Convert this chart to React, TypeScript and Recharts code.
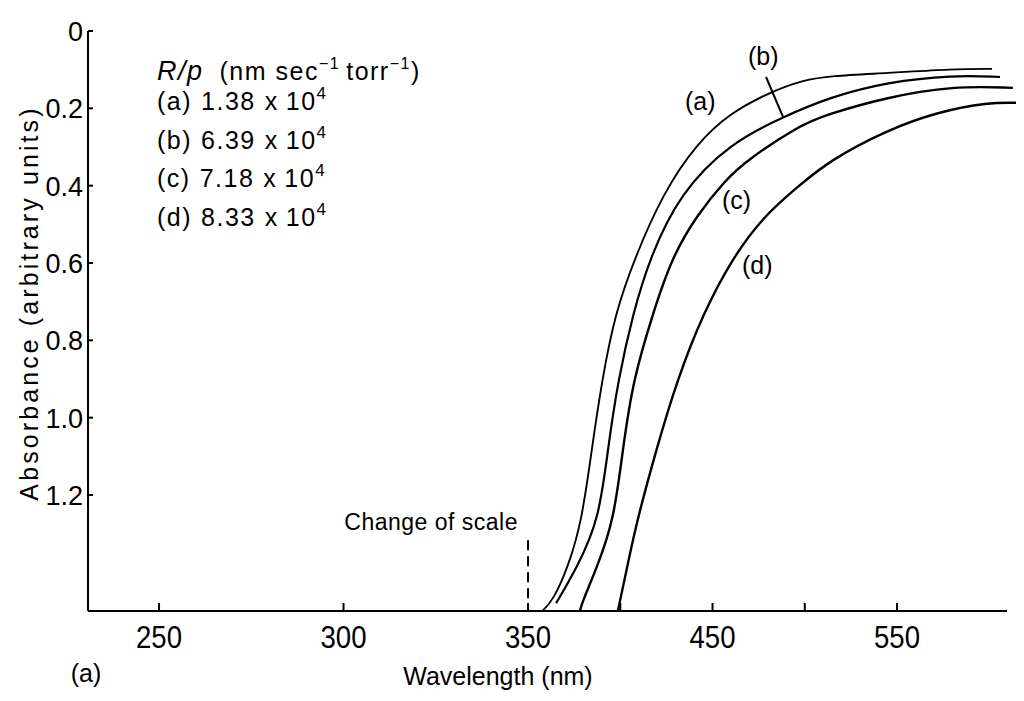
import { LineChart, Line, XAxis, YAxis, ReferenceLine } from 'recharts'

// wavelength (nm) / absorbance readings for each curve
const WL_A = [358.1, 363.6, 371.7, 379.3, 384.7, 390.1, 397.2, 408.0, 423.2, 441.6, 459.5, 481.2, 499.1, 513.7, 544.6, 580.3, 601.5]
const ABS_A = [1.498, 1.472, 1.387, 1.265, 1.076, 0.903, 0.73, 0.585, 0.419, 0.29, 0.212, 0.158, 0.127, 0.116, 0.109, 0.098, 0.098]

const WL_B = [365.2, 376.6, 388.5, 393.4, 398.8, 406.9, 416.1, 432.4, 459.5, 488.2, 513.7, 544.6, 580.3, 605.8]
const ABS_B = [1.48, 1.387, 1.265, 1.076, 0.903, 0.73, 0.585, 0.419, 0.29, 0.222, 0.171, 0.132, 0.114, 0.119]

const WL_C = [378.2, 379.8, 387.4, 396.6, 401.5, 406.9, 417.7, 428.0, 441.6, 456.8, 468.7, 495.8, 511.0, 544.6, 580.3, 612.8]
const ABS_C = [1.498, 1.472, 1.387, 1.265, 1.076, 0.903, 0.73, 0.585, 0.476, 0.386, 0.334, 0.248, 0.217, 0.171, 0.142, 0.147]

const WL_D = [398.8, 399.9, 403.7, 409.1, 419.9, 430.8, 444.9, 461.1, 477.4, 495.8, 513.7, 544.6, 571.7, 598.8, 618.0]
const ABS_D = [1.498, 1.472, 1.387, 1.265, 1.076, 0.903, 0.73, 0.585, 0.481, 0.404, 0.334, 0.256, 0.21, 0.184, 0.186]

const Y_TICKS = [0, 0.2, 0.4, 0.6, 0.8, 1.0, 1.2]
const X_TICKS_NM = [250, 300, 350, 400, 450, 500, 550]
const X_LABELS_NM = [250, 300, 350, 450, 550]

const LEGEND_ROWS = [
  { key: '(a)', rate: '1.38' },
  { key: '(b)', rate: '6.39' },
  { key: '(c)', rate: '7.18' },
  { key: '(d)', rate: '8.33' },
]

// the axis changes scale at 350 nm: below it 1 nm takes twice the room
const BREAK_NM = 350
const toAxis = (nm: number) => (nm < BREAK_NM ? BREAK_NM + (nm - BREAK_NM) * 2 : nm)
const fromAxis = (u: number) => (u < BREAK_NM ? BREAK_NM + (u - BREAK_NM) / 2 : u)

const X_MIN = toAxis(230.75)
const X_MAX = 618
const AXIS_END = 609.6

const series = (wl: number[], abs: number[]) => wl.map((w, i) => ({ u: toAxis(w), v: abs[i] }))
const dataA = series(WL_A, ABS_A)
const dataB = series(WL_B, ABS_B)
const dataC = series(WL_C, ABS_C)
const dataD = series(WL_D, ABS_D)

const FONT = '"Liberation Sans", Arial, sans-serif'

function XTick(props: any) {
  const { x, y, payload } = props
  const nm = Math.round(fromAxis(payload.value))
  return (
    <g>
      <line x1={x} y1={y} x2={x} y2={y - 8} stroke="#000" strokeWidth={2} />
      {X_LABELS_NM.includes(nm) && (
        <text
          x={x}
          y={y + 37}
          textAnchor="middle"
          fontSize={32}
          textLength={46}
          lengthAdjust="spacingAndGlyphs"
          fontFamily={FONT}
          fill="#000"
        >
          {nm}
        </text>
      )}
    </g>
  )
}

function YTick(props: any) {
  const { x, y, payload } = props
  const v = payload.value
  return (
    <g>
      <line x1={x} y1={y} x2={x + 5} y2={y} stroke="#000" strokeWidth={2} />
      <text x={x - 5} y={y + 10} textAnchor="end" fontSize={27} fontFamily={FONT} fill="#000">
        {v === 0 ? '0' : v.toFixed(1)}
      </text>
    </g>
  )
}

export default function App() {
  const line = { type: 'basis' as const, dataKey: 'v', stroke: '#000', strokeWidth: 2.2, dot: false, isAnimationActive: false }
  return (
    <div style={{ position: 'relative', width: 1016, height: 693, background: '#fff' }}>
      <LineChart width={1016} height={693} margin={{ top: 23, right: 1.5, left: 0, bottom: 0 }}>
        <XAxis
          type="number"
          dataKey="u"
          domain={[X_MIN, X_MAX]}
          ticks={X_TICKS_NM.map(toAxis)}
          interval={0}
          allowDataOverflow
          axisLine={false}
          tickLine={false}
          tickSize={0}
          tickMargin={0}
          height={90}
          tick={XTick}
        />
        <YAxis
          type="number"
          domain={[0, 1.5]}
          reversed
          ticks={Y_TICKS}
          interval={0}
          allowDataOverflow
          width={80}
          axisLine={{ stroke: '#000', strokeWidth: 2 }}
          tickLine={false}
          tickSize={0}
          tickMargin={0}
          tick={YTick}
        />
        <ReferenceLine segment={[{ x: X_MIN, y: 1.5 }, { x: AXIS_END, y: 1.5 }]} stroke="#000" strokeWidth={2} />
        <ReferenceLine
          segment={[{ x: BREAK_NM, y: 1.317 }, { x: BREAK_NM, y: 1.5 }]}
          stroke="#000"
          strokeWidth={2}
          strokeDasharray="10 6"
        />
        <ReferenceLine segment={[{ x: 479.0, y: 0.119 }, { x: 488.2, y: 0.222 }]} stroke="#000" strokeWidth={2} />
        <Line data={dataA} {...line} strokeWidth={1.9} />
        <Line data={dataB} {...line} />
        <Line data={dataC} {...line} strokeWidth={2.4} />
        <Line data={dataD} {...line} strokeWidth={2.4} />
      </LineChart>
      <svg
        width={1016}
        height={693}
        style={{ position: 'absolute', left: 0, top: 0, pointerEvents: 'none' }}
        fontFamily={FONT}
        fill="#000"
      >
        <text x={149} y={72} fontSize={25} letterSpacing={1.5}>
          <tspan fontStyle="italic" fontSize={27}>R/p</tspan>
          <tspan dx={16}>(nm sec</tspan>
          <tspan dy={-11} fontSize={16}>−1</tspan>
          <tspan dy={11} dx={6}>torr</tspan>
          <tspan dy={-11} fontSize={16}>−1</tspan>
          <tspan dy={11}>)</tspan>
        </text>
        {LEGEND_ROWS.map((r, i) => (
          <text key={r.key} x={149} y={102 + i * 38.5} fontSize={25} letterSpacing={1.5}>
            <tspan>{r.key}</tspan>
            <tspan dx={9}>{r.rate}</tspan>
            <tspan dx={9}>x</tspan>
            <tspan dx={7}>10</tspan>
            <tspan dy={-11} fontSize={17}>4</tspan>
          </text>
        ))}
        <text x={677} y={102} fontSize={25}>(a)</text>
        <text x={740} y={57} fontSize={25}>(b)</text>
        <text x={714} y={201} fontSize={25}>(c)</text>
        <text x={734} y={266} fontSize={25}>(d)</text>
        <text x={510} y={522} fontSize={23} textAnchor="end" letterSpacing={0.5}>Change of scale</text>
        <text x={490} y={677} fontSize={25} textAnchor="middle">Wavelength (nm)</text>
        <text x={78} y={674} fontSize={25} textAnchor="middle">(a)</text>
        <text transform="translate(30,295) rotate(-90)" fontSize={25} textAnchor="middle" letterSpacing={3.1}>
          Absorbance (arbitrary units)
        </text>
      </svg>
    </div>
  )
}
